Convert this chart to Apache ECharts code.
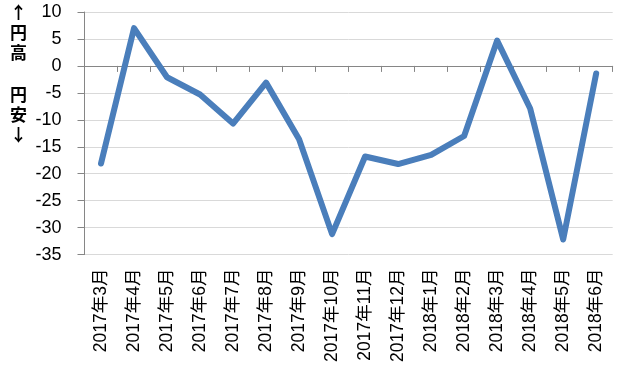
<!DOCTYPE html>
<html><head><meta charset="utf-8">
<script src="https://cdn.jsdelivr.net/npm/echarts@6/dist/echarts.min.js"></script>
<style>html,body{margin:0;padding:0;background:#fff}#c{width:623px;height:365px}</style>
</head><body><div id="c"></div>
<script>
const categories = ['2017年3月','2017年4月','2017年5月','2017年6月','2017年7月','2017年8月','2017年9月','2017年10月','2017年11月','2017年12月','2018年1月','2018年2月','2018年3月','2018年4月','2018年5月','2018年6月'];
const values = [-18.1, 7.0, -2.1, -5.3, -10.7, -3.1, -13.6, -31.2, -16.8, -18.2, -16.5, -13.0, 4.7, -7.9, -32.2, -1.4];
const yMin = -35, yMax = 10, yStep = 5;
const upNote = '↑\n円\n高';
const downNote = '円\n安\n↓';

const FONT = '"Liberation Sans", "Noto Sans CJK JP", sans-serif';
const chart = echarts.init(document.getElementById('c'));
chart.setOption({
  animation: false,
  grid: {left: 84.5, right: 10.3, top: 12, bottom: 109.5},
  xAxis: [{
    type: 'category', data: categories, boundaryGap: true,
    axisLine: {show: true, onZero: true, lineStyle: {color: '#868686', width: 1}},
    axisTick: {show: true, length: 6, interval: 0, lineStyle: {color: '#868686'}},
    axisLabel: {show: false}, splitLine: {show: false}
  }, {
    type: 'category', data: categories, boundaryGap: true, position: 'bottom',
    axisLine: {show: false, onZero: false}, axisTick: {show: false},
    axisLabel: {show: true, interval: 0, rotate: 90, margin: 14, color: '#000', fontSize: 17.5, fontFamily: FONT},
    splitLine: {show: false}
  }],
  yAxis: {
    type: 'value', min: yMin, max: yMax, interval: yStep,
    axisLine: {show: true, lineStyle: {color: '#868686'}},
    axisTick: {show: true, length: 7, lineStyle: {color: '#868686'}},
    axisLabel: {color: '#000', fontSize: 18, fontFamily: FONT, margin: 23},
    splitLine: {show: true, lineStyle: {color: '#d9d9d9', width: 1}}
  },
  graphic: [
    {type: 'text', left: 10, top: 3, style: {text: upNote, font: 'bold 17px "Noto Sans CJK JP"', fill: '#000', lineHeight: 20, align: 'center'}},
    {type: 'text', left: 10, top: 85, style: {text: downNote, font: 'bold 17px "Noto Sans CJK JP"', fill: '#000', lineHeight: 20, align: 'center'}}
  ],
  series: [{
    type: 'line', data: values, xAxisIndex: 0,
    symbol: 'none',
    lineStyle: {color: '#4a7ebb', width: 6, cap: 'round', join: 'round'}
  }]
});
</script></body></html>
